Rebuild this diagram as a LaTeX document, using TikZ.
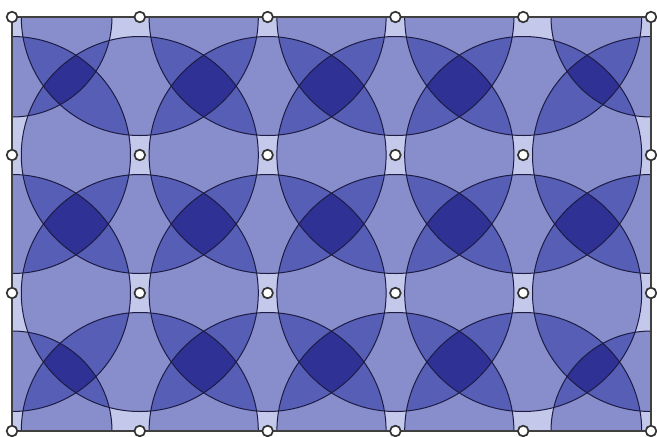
\documentclass[tikz,border=0pt]{standalone}
\definecolor{cover1}{HTML}{C4C8EA}
\definecolor{cover2}{HTML}{888ECB}
\definecolor{cover3}{HTML}{565EB6}
\definecolor{cover4}{HTML}{2F3195}
\definecolor{rimcol}{HTML}{1C1C44}
\tikzset{
  rim/.style={draw=rimcol,line width=1pt},
  rectline/.style={draw=black!75,line width=1.4pt},
  centre/.style={draw=black!80,fill=white,line width=1.7pt},
}
% disk radii: the four corner disks are smaller
\foreach \i in {0,...,5}{\foreach \j in {0,...,3}{\expandafter\xdef\csname rad\i\j\endcsname{118.5}}}
\expandafter\def\csname rad00\endcsname{100}
\expandafter\def\csname rad50\endcsname{100}
\expandafter\def\csname rad03\endcsname{100}
\expandafter\def\csname rad53\endcsname{100}
\newcommand\disk[2]{(c#1#2) circle[radius=\csname rad#1#2\endcsname]}
\begin{document}
\begin{tikzpicture}[x=1pt,y=-1pt]
  \useasboundingbox (0,0) rectangle (657,437);
  \foreach \i in {0,...,5}
    \foreach \j in {0,...,3}
      \coordinate (c\i\j) at ({12+127.8*\i},{17+138*\j});
  \fill[cover1] (c00) rectangle (c53);
  \begin{scope}
    \clip (c00) rectangle (c53);
    % covered twice
    \foreach \i in {0,...,4}
      \foreach \j in {0,...,2}{
        \pgfmathtruncatemacro\ip{\i+1}
        \pgfmathtruncatemacro\jp{\j+1}
        \foreach \ka/\la/\kb/\lb in {\i/\j/\ip/\j,\i/\j/\i/\jp,\i/\j/\ip/\jp,\ip/\j/\i/\jp,\ip/\j/\ip/\jp,\i/\jp/\ip/\jp}{
          \begin{scope}
            \clip \disk{\ka}{\la};
            \fill[cover2] \disk{\kb}{\lb};
          \end{scope}
        }
      }
    % three times
    \foreach \i in {0,...,4}
      \foreach \j in {0,...,2}{
        \pgfmathtruncatemacro\ip{\i+1}
        \pgfmathtruncatemacro\jp{\j+1}
        \foreach \ka/\la/\kb/\lb/\kc/\lc in {\i/\j/\ip/\j/\i/\jp,\i/\j/\ip/\j/\ip/\jp,\i/\j/\i/\jp/\ip/\jp,\ip/\j/\i/\jp/\ip/\jp}{
          \begin{scope}
            \clip \disk{\ka}{\la};
            \clip \disk{\kb}{\lb};
            \fill[cover3] \disk{\kc}{\lc};
          \end{scope}
        }
      }
    % four times
    \foreach \i in {0,...,4}
      \foreach \j in {0,...,2}{
        \pgfmathtruncatemacro\ip{\i+1}
        \pgfmathtruncatemacro\jp{\j+1}
        \begin{scope}
          \clip \disk{\i}{\j};
          \clip \disk{\ip}{\j};
          \clip \disk{\i}{\jp};
          \fill[cover4] \disk{\ip}{\jp};
        \end{scope}
      }
    \foreach \i in {0,...,5}
      \foreach \j in {0,...,3}
        \draw[rim] \disk{\i}{\j};
  \end{scope}
  \draw[rectline] (c00) rectangle (c53);
  \foreach \i in {0,...,5}
    \foreach \j in {0,...,3}
      \draw[centre] (c\i\j) circle[radius=5.3];
\end{tikzpicture}
\end{document}
